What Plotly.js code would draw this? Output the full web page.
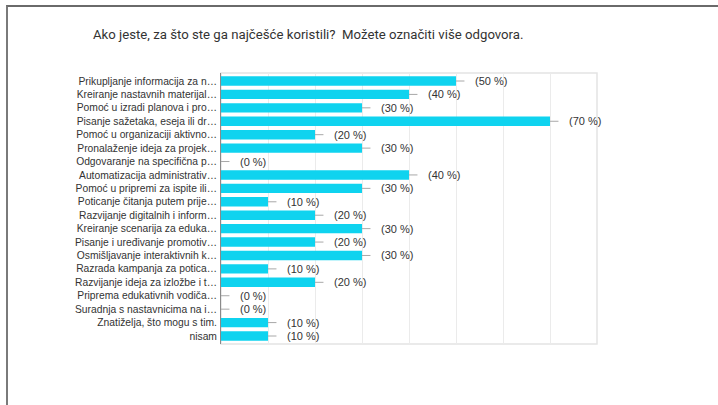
<!DOCTYPE html>
<html>
<head>
<meta charset="utf-8">
<script src="https://cdn.plot.ly/plotly-3.0.1.min.js"></script>
<style>
  html, body { margin: 0; padding: 0; background: #ffffff; }
  #wrap { position: relative; width: 718px; height: 405px; overflow: hidden; background: #fff; }
  #frame { position: absolute; left: 6px; top: 5px; width: 730px; height: 420px;
           border-top: 2px solid #6a6a6a; border-left: 2px solid #7a7a7a; }
  #chart { position: absolute; left: 0; top: 0; width: 718px; height: 405px; }
</style>
</head>
<body>
<div id="wrap">
  <div id="frame"></div>
  <div id="chart"></div>
</div>
<script>
const titleText = "Ako jeste, za što ste ga najčešće koristili?\u00a0 Možete označiti više odgovora.";

const categories = [
  "Prikupljanje informacija za n…",
  "Kreiranje nastavnih materijal…",
  "Pomoć u izradi planova i pro…",
  "Pisanje sažetaka, eseja ili dr…",
  "Pomoć u organizaciji aktivno…",
  "Pronalaženje ideja za projek…",
  "Odgovaranje na specifična p…",
  "Automatizacija administrativ…",
  "Pomoć u pripremi za ispite ili…",
  "Poticanje čitanja putem prije…",
  "Razvijanje digitalnih i inform…",
  "Kreiranje scenarija za eduka…",
  "Pisanje i uređivanje promotiv…",
  "Osmišljavanje interaktivnih k…",
  "Razrada kampanja za potica…",
  "Razvijanje ideja za izložbe i t…",
  "Priprema edukativnih vodiča…",
  "Suradnja s nastavnicima na i…",
  "Znatiželja, što mogu s tim.",
  "nisam"
];

const percents = [50, 40, 30, 70, 20, 30, 0, 40, 30, 10, 20, 30, 20, 30, 10, 20, 0, 0, 10, 10];

const valueLabels = percents.map(v => "(" + v + " %)");

const labelFont = { family: "Liberation Sans, Arial, sans-serif", size: 10.3, color: "#333333" };

const barTrace = {
  type: "bar",
  orientation: "h",
  y: categories,
  x: percents,
  marker: { color: "#0fd3ef", line: { width: 0 } },
  error_x: {
    type: "data",
    symmetric: false,
    array: percents.map(() => 1.8),
    arrayminus: percents.map(() => 0),
    width: 0,
    thickness: 1,
    color: "#a8a8a8"
  },
  hoverinfo: "none",
  showlegend: false
};

const annotations = categories.map((c, i) => ({
  x: percents[i],
  y: c,
  xref: "x",
  yref: "y",
  text: valueLabels[i],
  showarrow: false,
  xanchor: "left",
  yanchor: "middle",
  xshift: 17,
  font: { family: "Liberation Sans, Arial, sans-serif", size: 11, color: "#333333" }
}));

const layout = {
  width: 718,
  height: 405,
  paper_bgcolor: "rgba(0,0,0,0)",
  plot_bgcolor: "#ffffff",
  margin: { l: 221, r: 121, t: 73, b: 61, pad: 0 },
  title: {
    text: titleText,
    font: { family: "Roboto, sans-serif", size: 13.2, color: "#333333" },
    x: 93 / 718,
    xanchor: "left",
    xref: "container",
    y: 1 - 34 / 405,
    yanchor: "middle",
    yref: "container"
  },
  bargap: 0.3,
  xaxis: {
    range: [0, 80],
    dtick: 10,
    showgrid: true,
    gridcolor: "#ebebeb",
    gridwidth: 1,
    zeroline: false,
    showticklabels: false,
    showline: false,
    fixedrange: true
  },
  yaxis: {
    type: "category",
    autorange: "reversed",
    showgrid: false,
    zeroline: false,
    showline: true,
    linecolor: "#8a8a8a",
    linewidth: 1,
    ticks: "",
    ticklabelstandoff: 1,
    tickfont: labelFont,
    fixedrange: true
  },
  shapes: [{
    type: "rect",
    xref: "paper", yref: "paper",
    x0: 0, x1: 1, y0: 0, y1: 1,
    line: { color: "#e4e4e4", width: 1.5 },
    layer: "below"
  }],
  annotations: annotations
};

Plotly.newPlot("chart", [barTrace], layout, { displayModeBar: false, staticPlot: true });
</script>
</body>
</html>
